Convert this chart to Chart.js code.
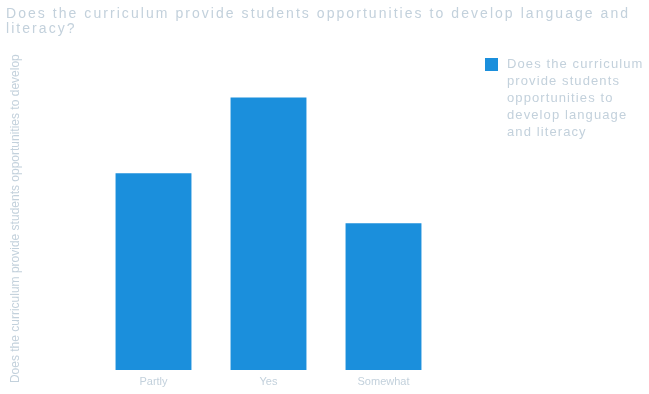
<!DOCTYPE html>
<html><head><meta charset="utf-8">
<script src="https://cdn.jsdelivr.net/npm/chart.js@4.4.1/dist/chart.umd.min.js"></script>
<style>
html,body{margin:0;padding:0;background:#fff;}
#wrap{position:relative;width:649px;height:394px;}
#legend{position:absolute;left:485px;top:55px;font:13px "Liberation Sans",Arial,sans-serif;color:#c3d1dc;line-height:17px;letter-spacing:1.1px;}
#legend .box{position:absolute;left:0;top:3px;width:13px;height:13px;background:#1b8fdc;}
#legend .txt{margin-left:22px;width:150px;}
</style></head>
<body><div id="wrap"><canvas id="c" width="649" height="394"></canvas>
<div id="legend"><span class="box"></span><div class="txt" id="legtxt"></div></div></div>
<script>
const categories = ["Partly", "Yes", "Somewhat"];
const values = [13, 18, 9.7];
const seriesName = "Does the curriculum provide students opportunities to develop language and literacy";
const titleLines = ["Does the curriculum provide students opportunities to develop language and", "literacy?"];
const yTitle = "Does the curriculum provide students opportunities to develop";
const legendLines = ["Does the curriculum", "provide students", "opportunities to", "develop language", "and literacy"];

document.getElementById('legtxt').innerHTML = legendLines.join('<br>');

const spacedTitle = {
  id: 'spacedTitle',
  beforeDraw(chart) {
    const tb = chart.titleBlock;
    if (tb && !tb._patched) {
      const orig = tb.draw;
      tb.draw = function () {
        const ctx = this.ctx;
        ctx.save();
        ctx.letterSpacing = '2.05px';
        orig.call(this);
        ctx.restore();
      };
      tb._patched = true;
    }
  }
};

const textColor = '#c3d1dc';
new Chart(document.getElementById('c'), {
  type: 'bar',
  data: { labels: categories, datasets: [{ label: seriesName, data: values, backgroundColor: '#1b8fdc', categoryPercentage: 0.66, barPercentage: 1 }] },
  plugins: [spacedTitle],
  options: {
    responsive: false, animation: false,
    layout: { padding: { left: 6, right: 0, top: 0, bottom: 0 } },
    plugins: {
      legend: { display: false },
      tooltip: { enabled: false },
      title: { display: true, text: titleLines, align: 'start', color: '#c3d1dc',
        font: { family: 'Liberation Sans', size: 14, weight: 'normal', lineHeight: 1.12 }, padding: { top: 6, bottom: 30 } }
    },
    scales: {
      x: { grid: { display: false, drawTicks: false }, border: { display: false },
        ticks: { color: textColor, font: { family: 'Liberation Sans', size: 11 }, padding: 5 },
        afterFit(s) { s.height = 24; } },
      y: { min: 0, max: 20, grid: { display: false, drawTicks: false }, border: { display: false },
        ticks: { display: false },
        title: { display: true, text: yTitle, color: textColor, font: { family: 'Liberation Sans', size: 12 }, padding: { top: 2, bottom: 2 } },
        afterFit(s) { s.width = 90; } },
      yR: { position: 'right', min: 0, max: 20, grid: { display: false, drawTicks: false }, border: { display: false },
        ticks: { display: false },
        afterFit(s) { s.width = 208; } }
    }
  }
});
</script></body></html>
